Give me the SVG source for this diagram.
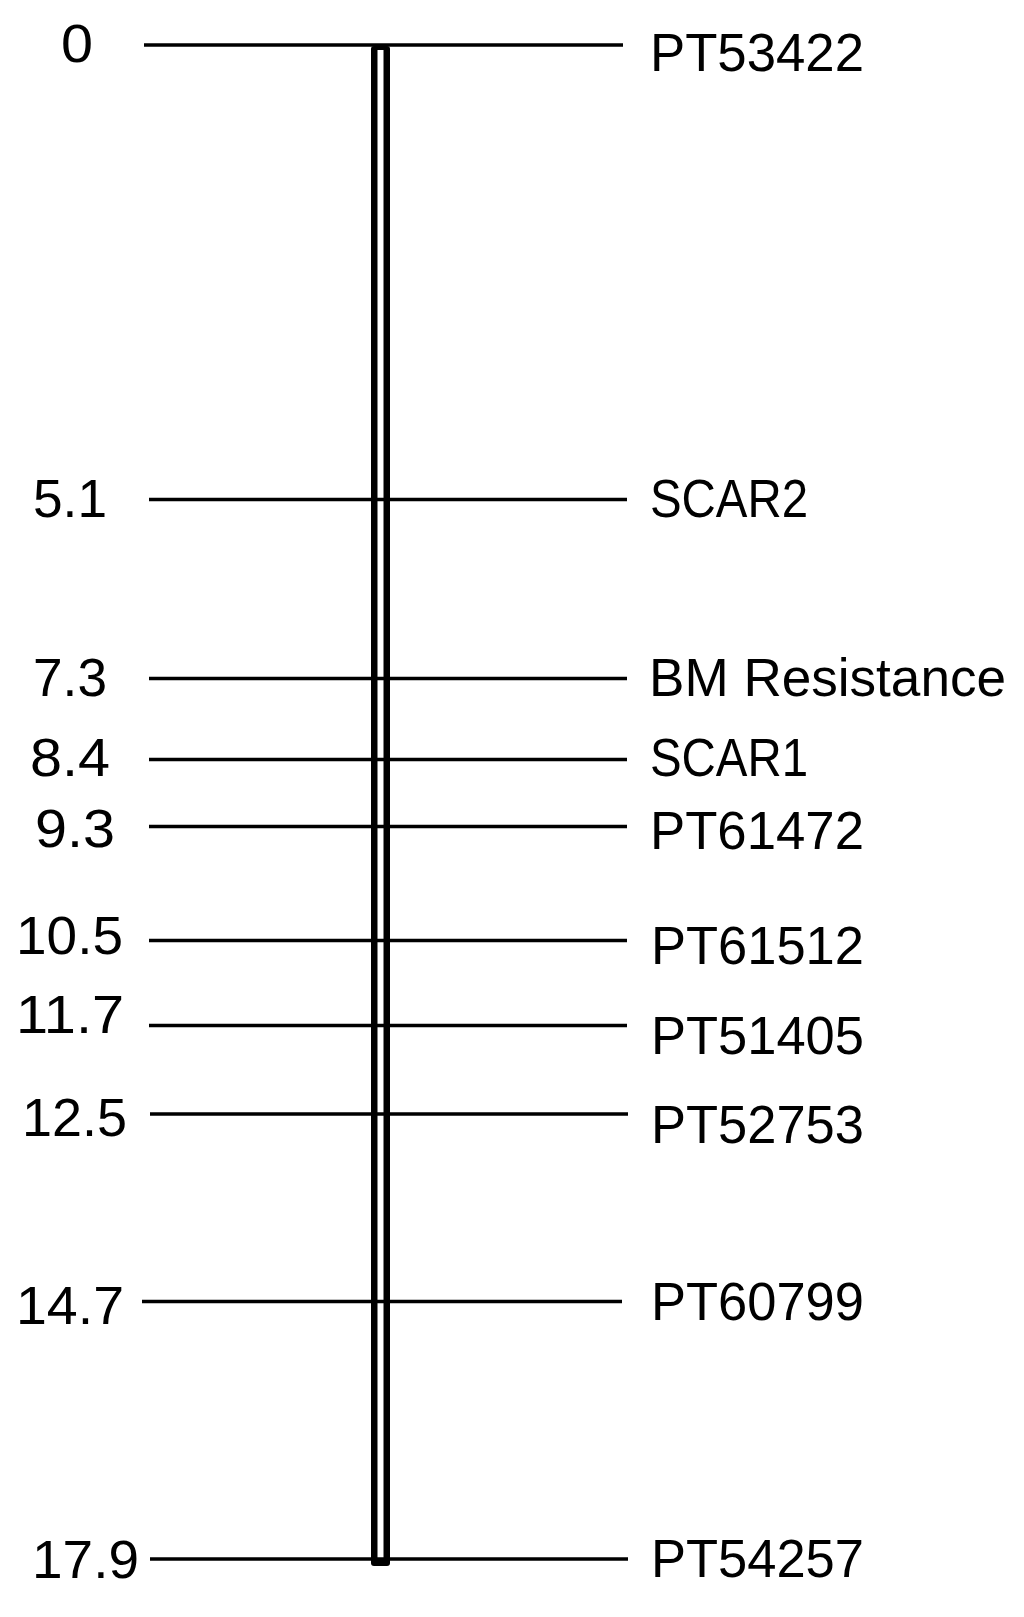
<svg xmlns="http://www.w3.org/2000/svg" width="1024" height="1617" viewBox="0 0 1024 1617">
<style>
.t{font-family:"Liberation Sans",Arial,sans-serif;font-size:54px;fill:#000}
.l{stroke:#000;stroke-width:3.6;fill:none}
</style>
<rect width="1024" height="1617" fill="#fff"/>
<g id="chromosome">
<rect x="371" y="46" width="19" height="1520" rx="3" fill="#000"/>
<rect x="377.5" y="50" width="6" height="1508" fill="#fff"/>
</g>
<g id="connectors">
<line class="l" x1="144" y1="45" x2="623" y2="45"/>
<line class="l" x1="149" y1="499.5" x2="627" y2="499.5"/>
<line class="l" x1="149" y1="678.5" x2="627" y2="678.5"/>
<line class="l" x1="149" y1="759.5" x2="627" y2="759.5"/>
<line class="l" x1="149" y1="826.5" x2="627" y2="826.5"/>
<line class="l" x1="149" y1="940.5" x2="627" y2="940.5"/>
<line class="l" x1="149" y1="1025.5" x2="627" y2="1025.5"/>
<line class="l" x1="150" y1="1114" x2="628" y2="1114"/>
<line class="l" x1="142" y1="1301.5" x2="622" y2="1301.5"/>
<line class="l" x1="150" y1="1559" x2="628" y2="1559"/>
</g>
<g id="m0"><text class="t" x="61" y="62" textLength="32" lengthAdjust="spacingAndGlyphs">0</text><text class="t" x="650" y="71" textLength="214" lengthAdjust="spacingAndGlyphs">PT53422</text></g>
<g id="m1"><text class="t" x="33" y="517" textLength="74" lengthAdjust="spacingAndGlyphs">5.1</text><text class="t" x="650" y="517" textLength="158" lengthAdjust="spacingAndGlyphs">SCAR2</text></g>
<g id="m2"><text class="t" x="33" y="696" textLength="74" lengthAdjust="spacingAndGlyphs">7.3</text><text class="t" x="649" y="696" textLength="357" lengthAdjust="spacingAndGlyphs">BM Resistance</text></g>
<g id="m3"><text class="t" x="30" y="776" textLength="80" lengthAdjust="spacingAndGlyphs">8.4</text><text class="t" x="650" y="776" textLength="158" lengthAdjust="spacingAndGlyphs">SCAR1</text></g>
<g id="m4"><text class="t" x="35" y="847" textLength="80" lengthAdjust="spacingAndGlyphs">9.3</text><text class="t" x="650" y="849" textLength="214" lengthAdjust="spacingAndGlyphs">PT61472</text></g>
<g id="m5"><text class="t" x="16" y="954" textLength="107" lengthAdjust="spacingAndGlyphs">10.5</text><text class="t" x="651" y="964" textLength="213" lengthAdjust="spacingAndGlyphs">PT61512</text></g>
<g id="m6"><text class="t" x="16" y="1033" textLength="108" lengthAdjust="spacingAndGlyphs">11.7</text><text class="t" x="651" y="1054" textLength="213" lengthAdjust="spacingAndGlyphs">PT51405</text></g>
<g id="m7"><text class="t" x="22" y="1136" textLength="105" lengthAdjust="spacingAndGlyphs">12.5</text><text class="t" x="651" y="1143" textLength="213" lengthAdjust="spacingAndGlyphs">PT52753</text></g>
<g id="m8"><text class="t" x="16" y="1324" textLength="108" lengthAdjust="spacingAndGlyphs">14.7</text><text class="t" x="651" y="1320" textLength="213" lengthAdjust="spacingAndGlyphs">PT60799</text></g>
<g id="m9"><text class="t" x="32" y="1578" textLength="107" lengthAdjust="spacingAndGlyphs">17.9</text><text class="t" x="651" y="1577" textLength="213" lengthAdjust="spacingAndGlyphs">PT54257</text></g>
</svg>
